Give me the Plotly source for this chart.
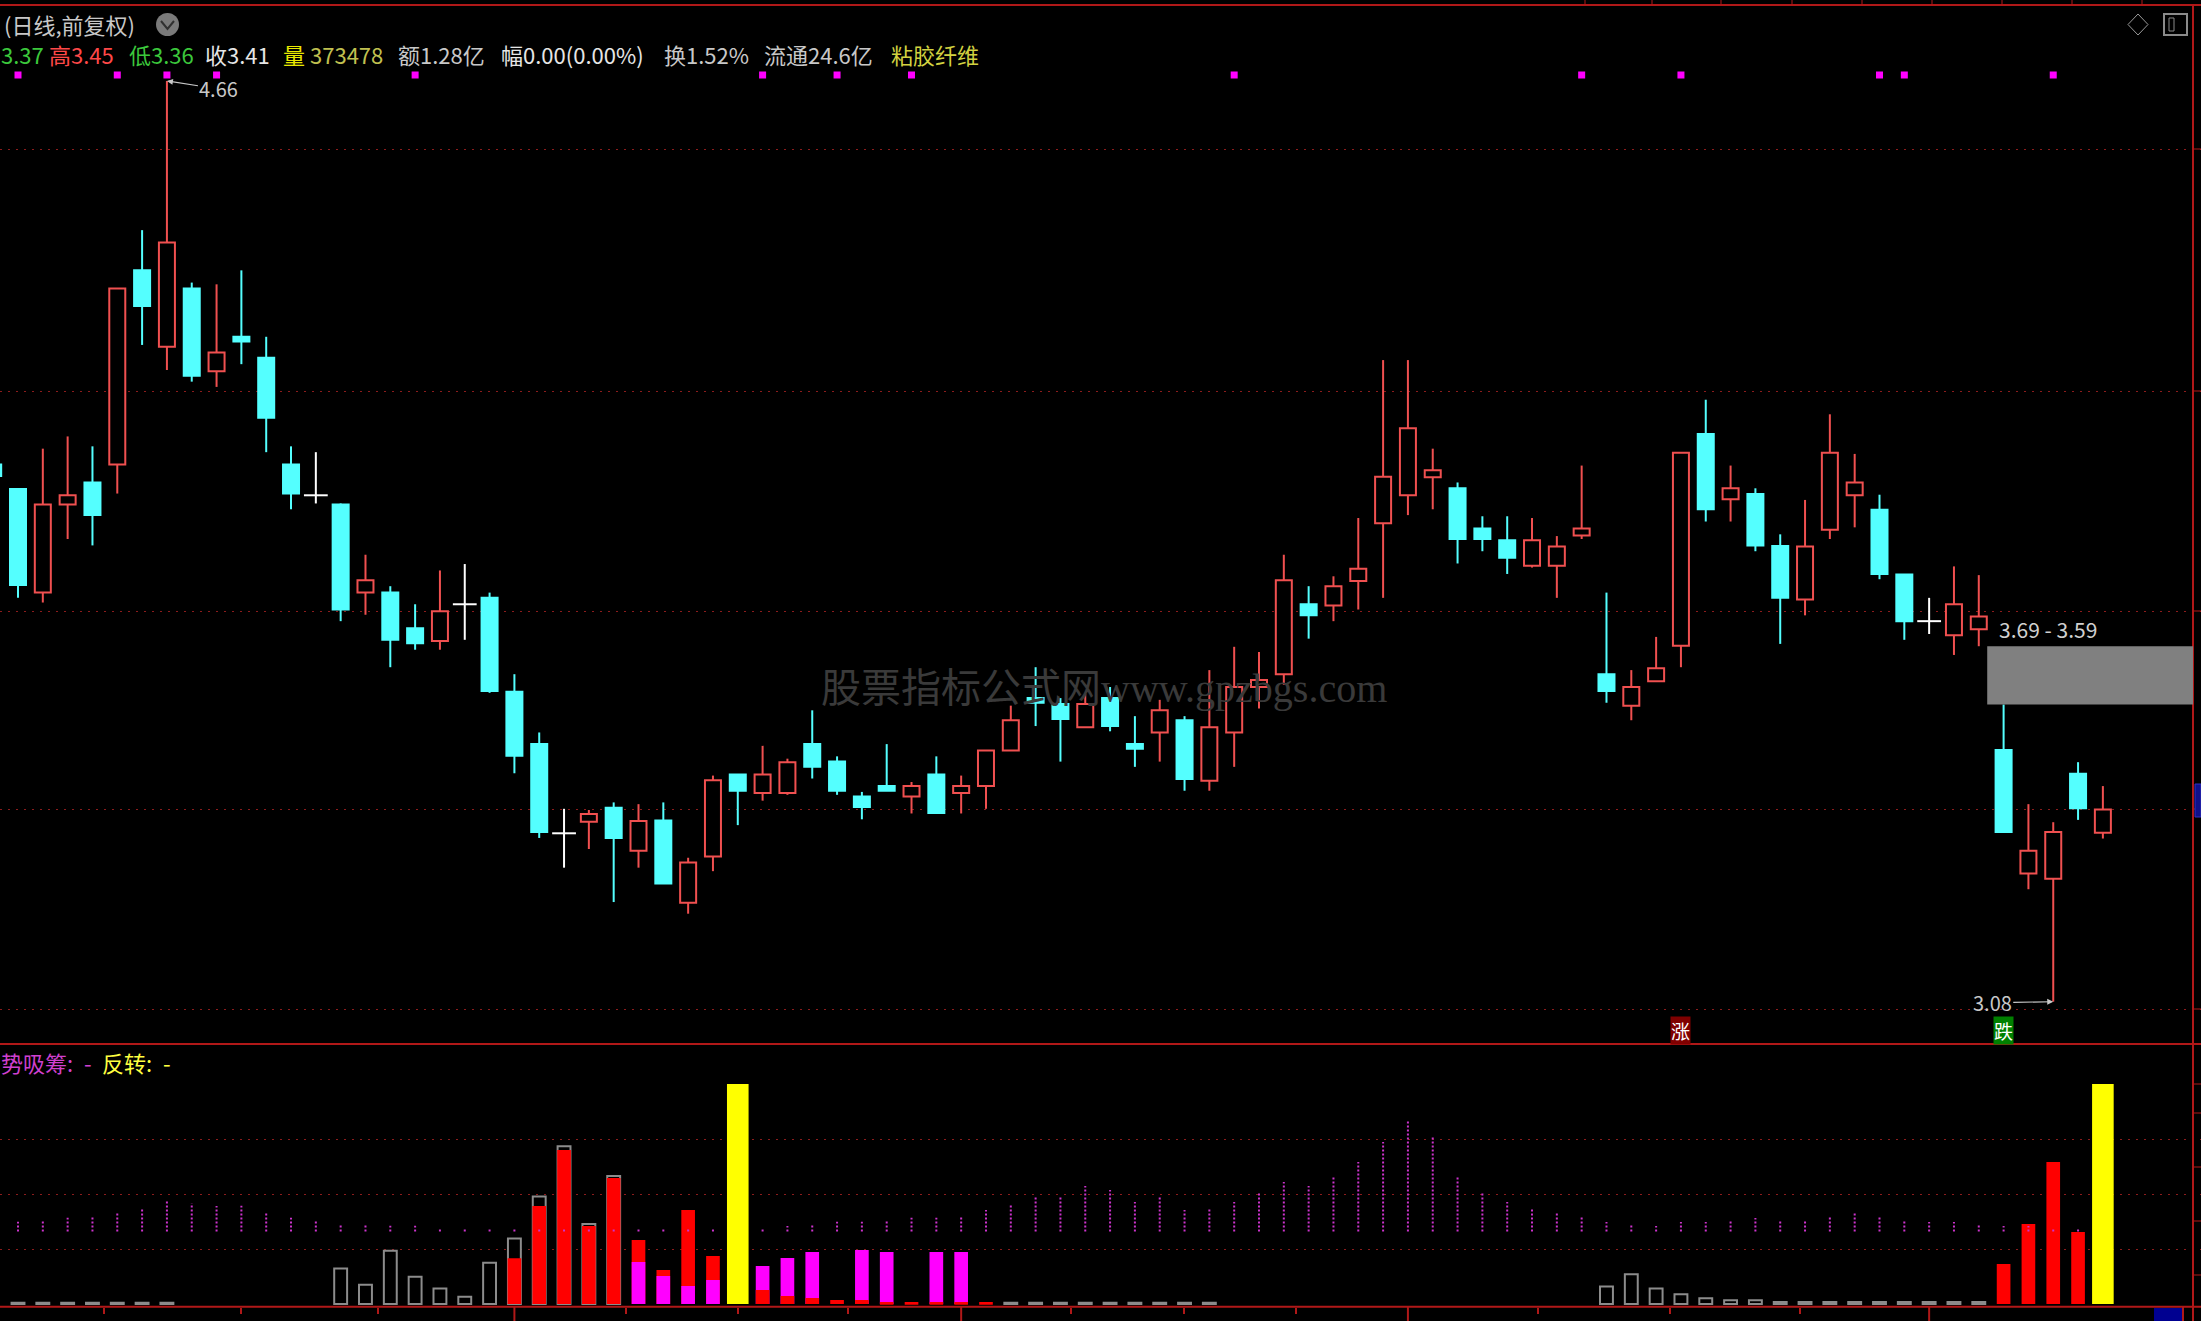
import plotly.graph_objects as go

W, H = 2201, 1321

# ---------------- data (candle index -1 .. 84) ----------------
opens = [4.002, 3.960, 3.782, 3.933, 3.971, 4.002, 4.335, 4.204, 4.304, 4.162,
         4.221, 4.185, 4.002, 3.949, 3.933, 3.782, 3.782, 3.721, 3.699, 3.762,
         3.773, 3.612, 3.522, 3.369, 3.389, 3.413, 3.339, 3.391, 3.250, 3.329,
         3.470, 3.438, 3.438, 3.522, 3.492, 3.432, 3.450, 3.432, 3.470, 3.438,
         3.450, 3.511, 3.601, 3.591, 3.551, 3.601, 3.522, 3.542, 3.563, 3.459,
         3.542, 3.620, 3.642, 3.762, 3.760, 3.802, 3.901, 3.949, 3.980, 3.961,
         3.892, 3.872, 3.828, 3.828, 3.880, 3.642, 3.588, 3.630, 3.691, 4.054,
         3.942, 3.951, 3.862, 3.770, 3.890, 3.949, 3.924, 3.813, 3.733, 3.709,
         3.719, 3.512, 3.300, 3.291, 3.471, 3.370]
highs = [4.010, 3.960, 4.029, 4.050, 4.033, 4.304, 4.404, 4.660, 4.314, 4.311,
         4.335, 4.221, 4.033, 4.023, 3.935, 3.847, 3.793, 3.762, 3.820, 3.831,
         3.782, 3.642, 3.542, 3.411, 3.409, 3.422, 3.419, 3.422, 3.327, 3.468,
         3.470, 3.519, 3.497, 3.580, 3.501, 3.440, 3.522, 3.457, 3.501, 3.468,
         3.511, 3.588, 3.654, 3.601, 3.608, 3.620, 3.570, 3.598, 3.570, 3.649,
         3.689, 3.680, 3.847, 3.793, 3.810, 3.910, 4.181, 4.181, 4.029, 3.971,
         3.913, 3.913, 3.910, 3.879, 4.000, 3.782, 3.649, 3.706, 4.022, 4.113,
         4.000, 3.961, 3.882, 3.941, 4.088, 4.020, 3.950, 3.813, 3.773, 3.827,
         3.812, 3.590, 3.419, 3.388, 3.491, 3.450]
lows = [3.975, 3.773, 3.765, 3.874, 3.863, 3.952, 4.207, 4.164, 4.144, 4.135,
        4.174, 4.023, 3.925, 3.935, 3.733, 3.744, 3.654, 3.684, 3.684, 3.701,
        3.610, 3.472, 3.361, 3.310, 3.342, 3.251, 3.310, 3.282, 3.231, 3.304,
        3.383, 3.425, 3.435, 3.463, 3.435, 3.393, 3.442, 3.403, 3.404, 3.403,
        3.411, 3.511, 3.553, 3.492, 3.551, 3.544, 3.483, 3.492, 3.442, 3.442,
        3.483, 3.583, 3.624, 3.703, 3.733, 3.753, 3.773, 3.915, 3.925, 3.832,
        3.853, 3.814, 3.825, 3.773, 3.874, 3.593, 3.563, 3.630, 3.654, 3.904,
        3.904, 3.853, 3.694, 3.743, 3.874, 3.894, 3.805, 3.701, 3.711, 3.675,
        3.690, 3.371, 3.273, 3.080, 3.392, 3.360]
closes = [3.982, 3.795, 3.933, 3.949, 3.915, 4.304, 4.274, 4.383, 4.154, 4.194,
          4.213, 4.082, 3.952, 3.949, 3.753, 3.803, 3.701, 3.695, 3.750, 3.762,
          3.613, 3.502, 3.371, 3.369, 3.402, 3.361, 3.390, 3.283, 3.319, 3.460,
          3.442, 3.470, 3.491, 3.483, 3.442, 3.414, 3.442, 3.450, 3.404, 3.450,
          3.511, 3.563, 3.593, 3.565, 3.591, 3.553, 3.514, 3.580, 3.462, 3.551,
          3.620, 3.632, 3.803, 3.743, 3.793, 3.823, 3.981, 4.064, 3.992, 3.874,
          3.874, 3.842, 3.872, 3.861, 3.892, 3.613, 3.620, 3.652, 4.022, 3.925,
          3.961, 3.863, 3.773, 3.861, 4.022, 3.971, 3.814, 3.733, 3.733, 3.762,
          3.741, 3.371, 3.339, 3.371, 3.412, 3.410]
first_index = -1

# indicator panel (0-100 scale)
gray_idx = [0, 1, 2, 3, 4, 5, 6,
            13, 14, 15, 16, 17, 18, 19, 20, 21, 22, 23, 24,
            40, 41, 42, 43, 44, 45, 46, 47, 48,
            64, 65, 66, 67, 68, 69, 70, 71, 72, 73, 74, 75, 76, 77, 78, 79]
gray_vals = [0.6, 0.6, 0.6, 0.6, 0.6, 0.6, 0.6,
             16.1, 8.8, 24.2, 12.4, 7.0, 3.3, 18.8, 29.8, 48.9, 71.7, 36.4, 58.2,
             0.6, 0.6, 0.6, 0.6, 0.6, 0.6, 0.6, 0.6, 0.6,
             8.0, 13.5, 7.1, 4.4, 2.6, 1.7, 1.7, 0.9, 0.9, 0.9, 0.9, 0.9, 0.9, 0.9, 0.9, 0.9]
red_idx = [20, 21, 22, 23, 24, 25, 26, 27, 28,
           30, 31, 32, 33, 34, 35, 36, 37, 38, 39,
           80, 81, 82, 83]
red_vals = [20.8, 44.5, 70.0, 35.5, 57.3, 29.1, 15.5, 42.7, 21.8,
            6.4, 3.6, 2.7, 1.8, 1.8, 0.9, 0.9, 0.9, 0.9, 0.9,
            18.2, 36.4, 64.5, 32.7]
mag_idx = [25, 26, 27, 28, 30, 31, 32, 34, 35, 37, 38]
mag_vals = [19.1, 12.7, 8.2, 10.9, 17.3, 20.9, 23.6, 24.5, 23.6, 23.6, 23.6]
yellow_idx = [29, 84]
yellow_vals = [100, 100]
stick_base = 32.9
stick_idx = list(range(0, 84))
stick_tops = [37.4, 38.2, 39.2, 40.2, 42.0, 43.8, 47.3, 45.8, 44.5, 44.7,
              42.0, 39.2, 38.2, 36.4, 36.4, 35.6, 35.6, 34.7, 34.7, 34.7,
              34.7, 34.7, 34.7, 34.7, 34.7, 34.7, 34.7, 34.7, 34.7, 34.7,
              34.7, 35.5, 36.4, 37.4, 37.4, 38.2, 39.2, 39.2, 40.2, 42.7,
              45.5, 49.1, 49.1, 53.6, 51.8, 46.4, 49.1, 42.7, 43.6, 46.4,
              50.5, 55.5, 53.6, 58.2, 64.5, 73.6, 83.6, 76.4, 58.2, 50.9,
              46.4, 43.6, 41.8, 40.0, 37.3, 36.4, 35.5, 37.3, 37.3, 38.2,
              39.1, 38.2, 38.2, 40.0, 41.8, 40.0, 38.2, 37.3, 37.3, 36.4,
              35.5, 35.5, 34.5, 34.5]

signal_idx = [0, 4, 6, 8, 16, 30, 33, 36, 49, 63, 67, 75, 76, 82]
rise_idx = [67]
fall_idx = [80]
gap_idx = 79
gap_hi, gap_lo = 3.69, 3.59
high_idx, high_val = 6, 4.66
low_idx, low_val = 82, 3.08

# ---------------- geometry helpers ----------------
def px(x):
    return x / W

def py(y):
    return 1 - y / H

X0, DX = 18.0, 24.82          # pixel centre of candle 0, candle spacing
xr = [(0 - X0) / DX, (W - X0) / DX]

def kx(xpix):
    return (xpix - X0) / DX

MAIN_TOP, MAIN_BOT = 5, 1044
P_REF_Y, P_REF, P_SLOPE = 1001.7, 3.08, 0.001716

def price_at(ypix):
    return P_REF + (P_REF_Y - ypix) * P_SLOPE

IND_TOP, IND_BOT, IND_ZERO, IND_SCALE = 1044.7, 1306.7, 1304.0, 2.2

def ind_at(ypix):
    return (IND_ZERO - ypix) / IND_SCALE

UP, DN, DOJI = '#F05050', '#54FFFF', '#FFFFFF'
BORDER = '#B01818'
GRID = '#8C1C1C'

fig = go.Figure()

# ---------------- candles ----------------
xs = list(range(first_index, first_index + len(opens)))
bodies = {'up': ([], [], []), 'dn': ([], [], [])}
wicks = {'up': ([], []), 'dn': ([], []), 'doji': ([], [])}
doji_x, doji_y = [], []
for k, o, h, l, c in zip(xs, opens, highs, lows, closes):
    top, bot = max(o, c), min(o, c)
    key = 'up' if c > o else ('dn' if c < o else 'doji')
    wx, wy = wicks[key]
    if key == 'doji':
        wx += [k, k, None]
        wy += [l, h, None]
        doji_x.append(k)
        doji_y.append(c)
        continue
    if h > top:
        wx += [k, k, None]
        wy += [top, h, None]
    if l < bot:
        wx += [k, k, None]
        wy += [l, bot, None]
    bx, bb, bh = bodies[key]
    bx.append(k)
    bb.append(bot)
    bh.append(top - bot)

for key, col in (('up', UP), ('dn', DN), ('doji', DOJI)):
    wx, wy = wicks[key]
    fig.add_trace(go.Scatter(x=wx, y=wy, mode='lines', line=dict(color=col, width=2),
                             xaxis='x', yaxis='y', hoverinfo='skip', showlegend=False))

bx, bb, bh = bodies['up']
fig.add_trace(go.Bar(x=bx, y=bh, base=bb, width=0.645, xaxis='x', yaxis='y',
                     marker=dict(color='#000000', line=dict(color=UP, width=2)),
                     hoverinfo='skip', showlegend=False))
bx, bb, bh = bodies['dn']
fig.add_trace(go.Bar(x=bx, y=bh, base=bb, width=0.645, xaxis='x', yaxis='y',
                     marker=dict(color=DN, line=dict(color=DN, width=2)),
                     hoverinfo='skip', showlegend=False))
fig.add_trace(go.Scatter(x=doji_x, y=doji_y, mode='markers', xaxis='x', yaxis='y',
                         marker=dict(symbol='line-ew', size=17, line=dict(color=DOJI, width=2)),
                         hoverinfo='skip', showlegend=False))

# signal marks on top
fig.add_trace(go.Scatter(x=signal_idx, y=[price_at(75)] * len(signal_idx), mode='markers',
                         xaxis='x', yaxis='y',
                         marker=dict(symbol='square', size=7, color='#FF00FF'),
                         hoverinfo='skip', showlegend=False))

# ---------------- indicator panel ----------------
fig.add_trace(go.Bar(x=gray_idx, y=gray_vals, width=0.52, xaxis='x2', yaxis='y2',
                     marker=dict(color='#000000', line=dict(color='#8C8C8C', width=2)),
                     hoverinfo='skip', showlegend=False))
rd = dict(zip(red_idx, red_vals))
md = dict(zip(mag_idx, mag_vals))
allk = sorted(set(rd) | set(md))
tall_x, tall_y, tall_c, short_x, short_y, short_c = [], [], [], [], [], []
for k in allk:
    r = rd.get(k, 0)
    m = md.get(k, 0)
    items = sorted([(r, '#FF0000'), (m, '#FF00FF')], reverse=True)
    tall_x.append(k); tall_y.append(items[0][0]); tall_c.append(items[0][1])
    if items[1][0] > 0:
        short_x.append(k); short_y.append(items[1][0]); short_c.append(items[1][1])
fig.add_trace(go.Bar(x=tall_x, y=tall_y, width=0.55, xaxis='x2', yaxis='y2',
                     marker=dict(color=tall_c, line=dict(width=0)),
                     hoverinfo='skip', showlegend=False))
fig.add_trace(go.Bar(x=short_x, y=short_y, width=0.55, xaxis='x2', yaxis='y2',
                     marker=dict(color=short_c, line=dict(width=0)),
                     hoverinfo='skip', showlegend=False))
fig.add_trace(go.Bar(x=yellow_idx, y=yellow_vals, width=0.87, xaxis='x2', yaxis='y2',
                     marker=dict(color='#FFFF00', line=dict(width=0)),
                     hoverinfo='skip', showlegend=False))
sx, sy = [], []
for k, t in zip(stick_idx, stick_tops):
    if k in yellow_idx:
        continue
    sx += [k, k, None]
    sy += [stick_base, t, None]
fig.add_trace(go.Scatter(x=sx, y=sy, mode='lines', xaxis='x2', yaxis='y2',
                         line=dict(color='#CC33CC', width=2, dash='2px,2px'),
                         hoverinfo='skip', showlegend=False))

# ---------------- layout ----------------
grid_main = [price_at(v) for v in (149, 391, 611, 809, 1009)]
week_ticks = [kx(v) for v in (103.6, 241, 377.5, 625.5, 738, 848, 1071, 1184, 1296,
                                1537.6, 1669.8, 1800)]
fig.update_layout(
    width=W, height=H, margin=dict(l=0, r=0, t=0, b=0),
    paper_bgcolor='#000000', plot_bgcolor='#000000',
    barmode='overlay', hovermode=False, showlegend=False,
    xaxis=dict(domain=[0, 1], range=xr, anchor='y', showgrid=False, zeroline=False,
               showticklabels=False, showline=False, ticks=''),
    yaxis=dict(domain=[py(MAIN_BOT), py(MAIN_TOP)], range=[price_at(MAIN_BOT), price_at(MAIN_TOP)],
               anchor='x', tickvals=grid_main, showticklabels=False, showgrid=True,
               gridcolor=GRID, griddash='2px,6px', gridwidth=1, zeroline=False, showline=False),
    xaxis2=dict(domain=[0, 1], range=xr, anchor='y2', showgrid=False, zeroline=False,
                showticklabels=False, showline=False, ticks='outside', ticklen=6, tickwidth=2,
                tickcolor=BORDER, tickvals=week_ticks),
    yaxis2=dict(domain=[py(IND_BOT), py(IND_TOP)], range=[ind_at(IND_BOT), ind_at(IND_TOP)],
                anchor='x2', tickvals=[25, 50, 75], showticklabels=False, showgrid=True,
                gridcolor=GRID, griddash='2px,6px', gridwidth=1, zeroline=False, showline=False),
)

shapes = []
def pline(x0, y0, x1, y1, color=BORDER, width=2):
    shapes.append(dict(type='line', xref='paper', yref='paper', x0=px(x0), y0=py(y0),
                       x1=px(x1), y1=py(y1), line=dict(color=color, width=width)))

pline(0, MAIN_TOP, W, MAIN_TOP)
pline(0, MAIN_BOT, W, MAIN_BOT)
pline(0, IND_BOT, W, IND_BOT)
pline(2193, MAIN_TOP, 2193, H)
pline(2183, IND_BOT, 2183, H)
for xt in (1585, 1652, 1721, 1792, 1862, 1932, 2002, 2072, 2142):
    pline(xt, 0, xt, MAIN_TOP, width=1)
for yt in (149, 391, 611, 809, 1009, 1084, 1113, 1167, 1221, 1275):
    pline(2193, yt, W, yt, width=1)
# month boundary ticks
month_idx = [20, 38, 56, 77]
month_txt = ['1', '2', '3', '4']
for k in month_idx:
    shapes.append(dict(type='line', xref='x2', yref='paper', x0=k, x1=k, y0=py(IND_BOT), y1=0,
                       line=dict(color=BORDER, width=2)))
# gap box
shapes.append(dict(type='rect', xref='x', yref='y', x0=gap_idx + 0.34, x1=kx(2193),
                   y0=gap_lo, y1=gap_hi, fillcolor='#808080', line=dict(width=0), layer='above'))
# right-edge price tag and bottom-right box
shapes.append(dict(type='rect', xref='paper', yref='paper', x0=px(2195), x1=px(W),
                   y0=py(817), y1=py(784), fillcolor='#10108A', line=dict(color='#3030C0', width=1)))
shapes.append(dict(type='rect', xref='paper', yref='paper', x0=px(2154), x1=px(2182),
                   y0=py(H), y1=py(1308), fillcolor='#000090', line=dict(width=0)))
# header icons
shapes.append(dict(type='circle', xref='paper', yref='paper', x0=px(156), x1=px(179),
                   y0=py(36), y1=py(13), fillcolor='#7A7A7A', line=dict(width=0)))
shapes.append(dict(type='path', xref='paper', yref='paper',
                   path=f'M {px(161)} {py(21)} L {px(167.5)} {py(29)} L {px(174)} {py(21)}',
                   line=dict(color='#303030', width=2)))
shapes.append(dict(type='path', xref='paper', yref='paper',
                   path=f'M {px(2138)} {py(14)} L {px(2148)} {py(24.5)} L {px(2138)} {py(35)} L {px(2128)} {py(24.5)} Z',
                   line=dict(color='#9A9A9A', width=1)))
shapes.append(dict(type='rect', xref='paper', yref='paper', x0=px(2164), x1=px(2187),
                   y0=py(35), y1=py(14), line=dict(color='#8A8A8A', width=2)))
shapes.append(dict(type='rect', xref='paper', yref='paper', x0=px(2169), x1=px(2174),
                   y0=py(31), y1=py(18), line=dict(color='#8A8A8A', width=1)))
fig.update_layout(shapes=shapes)

FONT = 'Noto Sans CJK SC'
ann = []
def txt(x, y, s, color, size=22, xanchor='left', family=FONT):
    ann.append(dict(xref='paper', yref='paper', x=px(x), y=py(y), text=s, showarrow=False,
                    xanchor=xanchor, yanchor='middle', font=dict(family=family, size=size, color=color)))

txt(2, 24, '(日线,前复权)', '#C8C8C8')
txt(-1, 54, '3.37', '#3CC83C')
txt(47, 54, '高3.45', '#FF4848')
txt(127, 54, '低3.36', '#3CC83C')
txt(203, 54, '收3.41', '#E6E6E6')
txt(281, 54, '量', '#E8E800')
txt(308, 54, '373478', '#C0C050')
txt(396, 54, '额1.28亿', '#C8C8C8')
txt(499, 54, '幅0.00(0.00%)', '#E6E6E6')
txt(662, 54, '换1.52%', '#C8C8C8')
txt(762, 54, '流通24.6亿', '#C8C8C8')
txt(889, 54, '粘胶纤维', '#D2D240')
txt(-1, 1062, '势吸筹:', '#D040D0', size=22)
txt(82, 1062, '-', '#D040D0', size=22)
txt(100, 1062, '反转:', '#FFFF40', size=22)
txt(161, 1062, '-', '#FFFF40', size=22)
txt(1104, 689, '股票指标公式网www.gpzbgs.com', '#3A3A3A', size=40, xanchor='center',
    family='Liberation Serif, Noto Sans CJK SC')
txt(2048, 629, '3.69 - 3.59', '#D0D0D0', size=21, xanchor='center')
for k, s in zip(month_idx, month_txt):
    ann.append(dict(xref='x2', yref='paper', x=k, y=py(1311), text=s, showarrow=False,
                    xanchor='left', yanchor='top', xshift=2,
                    font=dict(family=FONT, size=18, color='#D03030')))
# high / low arrows
ann.append(dict(xref='x', yref='y', x=high_idx, y=high_val, text=f'{high_val:.2f}', showarrow=True,
                arrowhead=2, arrowsize=1, arrowwidth=1.2, arrowcolor='#C8C8C8', ax=52, ay=8,
                font=dict(family=FONT, size=20, color='#C8C8C8')))
ann.append(dict(xref='x', yref='y', x=low_idx, y=low_val, text=f'{low_val:.2f}', showarrow=True,
                arrowhead=2, arrowsize=1, arrowwidth=1.2, arrowcolor='#C8C8C8', ax=-61, ay=1,
                font=dict(family=FONT, size=20, color='#C8C8C8')))
for k in rise_idx:
    ann.append(dict(xref='x', yref='paper', x=k, y=py(1030), text='涨', showarrow=False,
                    xanchor='center', yanchor='middle',
                    bgcolor='#800000', borderpad=0, font=dict(family=FONT, size=19, color='#FFFFFF')))
for k in fall_idx:
    ann.append(dict(xref='x', yref='paper', x=k, y=py(1030), text='跌', showarrow=False,
                    xanchor='center', yanchor='middle',
                    bgcolor='#008000', borderpad=0, font=dict(family=FONT, size=19, color='#FFFFFF')))
fig.update_layout(annotations=ann)

fig.write_html('out.html', config={'displayModeBar': False},
               post_script="document.body.style.margin='0';document.body.style.overflow='hidden';")
